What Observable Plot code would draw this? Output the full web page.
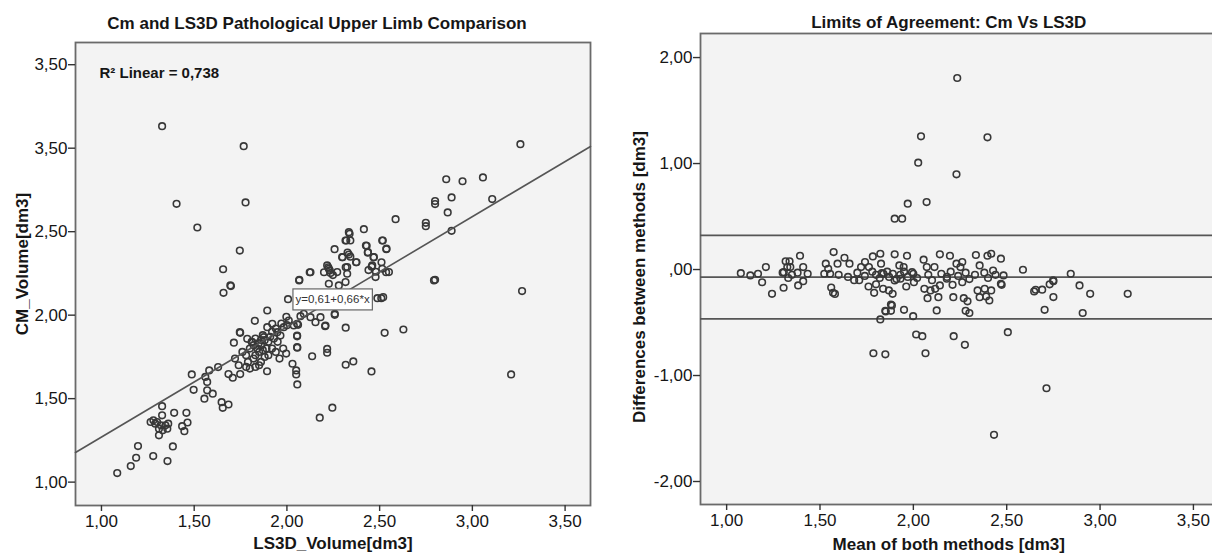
<!DOCTYPE html>
<html><head><meta charset="utf-8">
<script src="https://cdn.jsdelivr.net/npm/d3@7"></script>
<script src="https://cdn.jsdelivr.net/npm/@observablehq/plot@0.6"></script>
<style>
html,body{margin:0;padding:0;background:#fff;overflow:hidden;width:1212px;height:555px}
#wrap{position:relative;width:1212px;height:555px;overflow:hidden}
#left{position:absolute;left:0;top:0;width:606px;height:555px}
#right{position:absolute;left:606px;top:0;width:626px;height:555px}
#wrap svg{max-width:none !important}
</style></head><body><div id="wrap"><div id="left"></div><div id="right"></div></div>
<script>
// ---------- DATA ----------
const leftTitle = "Cm and LS3D Pathological Upper Limb Comparison";
const rightTitle = "Limits of Agreement: Cm Vs LS3D";
const leftXLabel = "LS3D_Volume[dm3]";
const leftYLabel = "CM_Volume[dm3]";
const rightXLabel = "Mean of both methods [dm3]";
const rightYLabel = "Differences between methods [dm3]";
const r2Label = "R² Linear = 0,738";
const equationLabel = "y=0,61+0,66*x";

const xTicks = [1, 1.5, 2, 2.5, 3, 3.5];
const xTickLabels = ["1,00", "1,50", "2,00", "2,50", "3,00", "3,50"];
const leftYTicks = [1, 1.5, 2, 2.5, 3, 3.5];
const leftYTickLabels = ["1,00", "1,50", "2,00", "2,50", "3,50", "3,50"];
const rightYTicks = [-2, -1, 0, 1, 2];
const rightYTickLabels = ["-2,00", "-1,00", ",00", "1,00", "2,00"];

const xDomain = [0.86, 3.637];
const leftYDomain = [0.86, 3.633];
const rightYDomain = [-2.217, 2.227];

const fitIntercept = 0.61;
const fitSlope = 0.66;
const equationAt = [2.246];
const agreementLines = [0.322, -0.072, -0.465]; // upper LoA, mean, lower LoA

// [LS3D volume, CM volume]
const scatterPairs = [
  [1.327,3.132],[1.767,3.012],[3.259,3.024],[1.405,2.667],[1.777,2.675],[1.517,2.525],[1.746,2.387],[1.656,2.275],
  [2.859,2.814],[2.947,2.802],[3.057,2.825],[2.888,2.705],[2.799,2.683],[2.799,2.665],[3.107,2.695],[2.867,2.615],
  [2.749,2.553],[2.749,2.533],[2.586,2.575],[2.888,2.505],[2.415,2.515],[2.338,2.487],[2.320,2.447],[2.342,2.447],
  [2.257,2.395],[2.430,2.415],[2.517,2.447],[2.536,2.395],[2.436,2.375],[2.327,2.375],[2.342,2.350],[2.300,2.347],
  [2.467,2.347],[2.373,2.317],[2.457,2.290],[2.510,2.317],[2.223,2.287],[2.231,2.268],[2.123,2.257],[2.200,2.257],
  [2.248,2.240],[2.317,2.287],[2.440,2.270],[2.480,2.260],[2.535,2.257],[2.799,2.212],[2.067,2.212],[3.268,2.144],
  [1.658,2.134],[1.698,2.174],[2.006,2.096],[2.509,2.102],[2.488,2.102],[1.894,2.028],[1.827,1.966],[1.997,1.990],
  [2.060,1.942],[2.258,2.002],[2.317,1.925],[2.206,1.934],[2.527,1.894],[2.628,1.914],[1.748,1.894],[1.714,1.835],
  [2.055,1.873],[2.056,1.805],[2.136,1.754],[2.217,1.775],[2.317,1.703],[2.358,1.723],[2.456,1.663],[1.996,1.770],
  [2.030,1.709],[2.050,1.669],[2.050,1.645],[2.056,1.585],[3.209,1.645],[2.177,1.386],[2.245,1.446],[1.893,1.664],
  [1.830,1.690],[1.780,1.690],[1.748,1.647],[1.685,1.647],[1.708,1.625],[1.648,1.479],[1.654,1.445],[1.685,1.465],
  [1.629,1.689],[1.581,1.669],[1.487,1.645],[1.497,1.553],[1.555,1.500],[1.570,1.550],[1.570,1.600],[1.600,1.530],
  [1.560,1.630],[1.458,1.415],[1.464,1.357],[1.447,1.305],[1.435,1.335],[1.392,1.415],[1.327,1.455],[1.327,1.400],
  [1.300,1.360],[1.280,1.370],[1.265,1.360],[1.310,1.320],[1.310,1.280],[1.330,1.310],[1.345,1.340],[1.355,1.320],
  [1.360,1.350],[1.290,1.350],[1.320,1.340],[1.385,1.214],[1.356,1.126],[1.279,1.156],[1.197,1.216],[1.187,1.146],
  [1.158,1.096],[1.085,1.054],
  [2.217,2.298],[2.226,2.278],[2.235,2.252],[2.271,2.258],[2.226,2.188],[2.280,2.178],[2.325,2.248],[2.316,2.198],
  [2.298,2.347],[2.334,2.363],[2.325,2.288],[2.334,2.497],[2.316,2.447],[2.375,2.317],[2.426,2.417],[2.437,2.377],
  [2.469,2.347],[2.460,2.298],[2.478,2.228],[2.514,2.278],[2.550,2.258],[2.514,2.447],[2.537,2.398],[2.519,2.108],
  [2.793,2.208],[2.258,2.008],[2.208,1.938],[2.154,1.958],[1.695,2.178],[2.066,2.208],[2.127,2.257],
  [1.746,1.898],[1.786,1.858],[1.813,1.838],[1.848,1.832],[1.875,1.868],[1.894,1.928],[1.921,1.948],[1.948,1.898],
  [1.965,1.878],[1.983,1.928],[2.010,1.968],[2.037,1.938],[2.055,1.948],[2.073,1.994],[2.091,2.008],[2.127,1.988],
  [2.181,1.988],[2.055,1.878],[2.055,1.808],[2.217,1.798],
  [1.800,1.800],[1.820,1.820],[1.840,1.800],[1.850,1.780],[1.860,1.820],[1.830,1.760],[1.870,1.790],[1.880,1.850],
  [1.900,1.840],[1.890,1.800],[1.910,1.870],[1.920,1.900],[1.930,1.860],[1.950,1.840],[1.780,1.760],[1.760,1.780],
  [1.790,1.720],[1.820,1.740],[1.860,1.720],[1.880,1.750],[1.900,1.760],[1.940,1.780],[1.960,1.740],[1.720,1.740],
  [1.740,1.700],[1.850,1.700],[1.800,1.680],[1.980,1.800],[1.830,1.860],[1.810,1.840],[1.870,1.880],[1.940,1.920],
  [1.970,1.950],[2.000,1.940],[1.920,1.800],[1.860,1.850]
];

// [mean of both methods, difference between methods]
const agreementPairs = [
  [2.235,1.807],[2.041,1.257],[2.397,1.247],[2.026,1.008],[2.231,0.898],[1.970,0.621],[2.071,0.636],[1.900,0.480],[1.940,0.480],
  [1.076,-0.034],[1.127,-0.056],[1.168,-0.040],[1.210,0.023],[1.316,0.077],[1.337,0.077],[1.325,0.023],[1.306,-0.025],
  [1.341,0.023],[1.393,0.130],[1.410,0.023],[1.434,-0.040],[1.523,-0.040],[1.544,0.007],[1.554,-0.040],[1.531,0.055],
  [1.573,0.165],[1.594,0.055],[1.631,0.111],[1.658,0.055],[1.720,0.023],[1.741,0.070],[1.762,0.023],[1.783,0.124],
  [1.823,0.149],[1.827,0.055],[1.831,-0.034],[1.900,0.143],[1.925,0.039],[1.948,0.023],[1.966,0.130],[1.993,-0.025],
  [2.055,0.093],[2.072,0.023],[2.113,0.023],[2.142,0.143],[2.196,0.130],[2.231,0.055],[2.252,0.023],[2.262,0.070],
  [2.335,0.137],[2.355,0.039],[2.397,0.130],[2.417,0.149],[2.427,-0.009],[2.469,0.102],[2.483,-0.056],[2.587,-0.002],
  [2.749,-0.103],[2.843,-0.040],
  [1.700,-0.030],[1.740,-0.060],[1.780,-0.020],[1.800,-0.050],[1.820,-0.080],[1.840,-0.040],[1.860,-0.020],[1.870,-0.070],
  [1.890,-0.040],[1.910,-0.090],[1.930,-0.050],[1.950,-0.020],[1.970,-0.070],[2.000,-0.040],[2.020,-0.080],[2.080,-0.050],
  [2.100,-0.100],[2.150,-0.040],[2.180,-0.070],[2.200,-0.020],[2.240,-0.060],[2.280,-0.030],[2.300,-0.090],[2.330,-0.050],
  [2.380,-0.030],[2.400,-0.080],[2.440,-0.050],[1.350,-0.050],[1.330,-0.080],[1.380,-0.030],[1.300,-0.030],[1.600,-0.050],
  [1.650,-0.070],
  [2.713,-1.120],[2.432,-1.560],[1.786,-0.790],[1.850,-0.800],[2.065,-0.790],[2.015,-0.613],[2.048,-0.629],[2.216,-0.629],
  [2.276,-0.710],[2.506,-0.591],[1.823,-0.471],[1.999,-0.440],[1.950,-0.380],[1.850,-0.390],[1.880,-0.390],[1.880,-0.330],
  [2.125,-0.386],[2.280,-0.390],[2.300,-0.410],[2.270,-0.270],[2.290,-0.300],[2.703,-0.380],[2.907,-0.410],[2.947,-0.229],
  [3.148,-0.229],[2.890,-0.150],[2.690,-0.190],[2.750,-0.260],[2.730,-0.140],[2.750,-0.110],[2.647,-0.207],[2.655,-0.191],
  [1.243,-0.229],[1.305,-0.172],[1.190,-0.120],[1.383,-0.150],[1.410,-0.110],[1.560,-0.170],[1.570,-0.220],[1.580,-0.230],
  [1.683,-0.100],[1.710,-0.100],[1.790,-0.220],[1.760,-0.160],[1.800,-0.140],
  [1.838,-0.182],[1.869,-0.197],[1.889,-0.229],[1.900,-0.103],[1.931,-0.087],[1.962,-0.160],[2.003,-0.119],[2.059,-0.182],
  [2.076,-0.270],[2.092,-0.197],[2.117,-0.182],[2.134,-0.261],[2.142,-0.150],[2.179,-0.087],[2.210,-0.144],[2.214,-0.261],
  [2.262,-0.119],[2.344,-0.197],[2.355,-0.261],[2.382,-0.182],[2.390,-0.254],[2.407,-0.292],[2.417,-0.197],[2.469,-0.135],
  [2.473,-0.144],[1.885,-0.339],[1.852,-0.396]
];

// ---------- DRAWING ----------
const font = "'Liberation Sans', Arial, Helvetica, sans-serif";
const ink = "#161616";
const dotStroke = "#383838";
const panelFill = "#f3f3f3";
const frameStroke = "#6a6a6a";
const fmt = (ticks, labels) => d => labels[ticks.indexOf(d)];
const dotStyle = {r: 3.3, stroke: dotStroke, strokeWidth: 1.6, fill: "none"};

const left = Plot.plot({
  width: 606, height: 555,
  marginLeft: 75, marginRight: 16, marginTop: 42, marginBottom: 50,
  style: {fontFamily: font, fontSize: "17px", color: ink, background: "transparent", overflow: "visible"},
  x: {domain: xDomain, label: null},
  y: {domain: leftYDomain, label: null},
  marks: [
    Plot.frame({fill: panelFill, stroke: frameStroke, strokeWidth: 1.8}),
    Plot.dot(scatterPairs, {x: d => d[0], y: d => d[1], ...dotStyle}),
    Plot.line(xDomain, {x: d => d, y: d => fitIntercept + fitSlope * d, stroke: "#555", strokeWidth: 1.6}),
    Plot.text(equationAt, {x: d => d, y: d => fitIntercept + fitSlope * d, text: () => equationLabel,
      fontSize: 11.5, fill: "#333"}),
    Plot.text([r2Label], {frameAnchor: "top-left", dx: 24, dy: 31, textAnchor: "start", lineAnchor: "middle",
      fontSize: 15, fontWeight: "bold", fill: ink}),
    Plot.axisX({ticks: xTicks, tickFormat: fmt(xTicks, xTickLabels), tickSize: 6, tickPadding: 3,
      stroke: "#333", strokeWidth: 1.4, fill: ink}),
    Plot.axisY({ticks: leftYTicks, tickFormat: fmt(leftYTicks, leftYTickLabels), tickSize: 7, tickPadding: 1,
      stroke: "#333", strokeWidth: 1.4, fill: ink}),
    Plot.text([leftTitle], {frameAnchor: "top", dx: -16, dy: -19, lineAnchor: "middle", fontSize: 17, fontWeight: "bold", fill: ink}),
    Plot.text([leftXLabel], {frameAnchor: "bottom", dy: 38, lineAnchor: "middle", fontSize: 17, fontWeight: "bold", fill: ink}),
    Plot.text([leftYLabel], {frameAnchor: "left", dx: -53, dy: -10, rotate: -90, textAnchor: "middle", lineAnchor: "middle", fontSize: 17, fontWeight: "bold", fill: ink})
  ]
});
document.getElementById("left").appendChild(left);

const right = Plot.plot({
  width: 626, height: 555,
  marginLeft: 94, marginRight: 13.5, marginTop: 33, marginBottom: 51,
  style: {fontFamily: font, fontSize: "17px", color: ink, background: "transparent", overflow: "visible"},
  x: {domain: xDomain, label: null},
  y: {domain: rightYDomain, label: null},
  marks: [
    Plot.frame({fill: panelFill, stroke: frameStroke, strokeWidth: 1.8}),
    Plot.ruleY(agreementLines, {stroke: "#555", strokeWidth: 1.8}),
    Plot.dot(agreementPairs, {x: d => d[0], y: d => d[1], ...dotStyle}),
    Plot.axisX({ticks: xTicks, tickFormat: fmt(xTicks, xTickLabels), tickSize: 6, tickPadding: 3,
      stroke: "#333", strokeWidth: 1.4, fill: ink}),
    Plot.axisY({ticks: rightYTicks, tickFormat: fmt(rightYTicks, rightYTickLabels), tickSize: 7, tickPadding: 1,
      stroke: "#333", strokeWidth: 1.4, fill: ink}),
    Plot.text([rightTitle], {frameAnchor: "top", dx: -11, dy: -11, lineAnchor: "middle", fontSize: 17, fontWeight: "bold", fill: ink}),
    Plot.text([rightXLabel], {frameAnchor: "bottom", dx: -11, dy: 40, lineAnchor: "middle", fontSize: 17, fontWeight: "bold", fill: ink}),
    Plot.text([rightYLabel], {frameAnchor: "left", dx: -61, dy: 8, rotate: -90, textAnchor: "middle", lineAnchor: "middle", fontSize: 17, fontWeight: "bold", fill: ink})
  ]
});
document.getElementById("right").appendChild(right);

// white box behind the regression equation label (measured from the rendered text)
{
  const svgBox = left.getBoundingClientRect();
  const eqText = Array.from(left.querySelectorAll("text")).find(t => t.textContent === equationLabel);
  if (eqText) {
    const bb = eqText.getBoundingClientRect();
    const rect = document.createElementNS("http://www.w3.org/2000/svg", "rect");
    rect.setAttribute("x", bb.left - svgBox.left - 2.5);
    rect.setAttribute("y", bb.top - svgBox.top - 4.5);
    rect.setAttribute("width", bb.width + 5);
    rect.setAttribute("height", bb.height + 9);
    rect.setAttribute("fill", "#fff");
    rect.setAttribute("stroke", "#666");
    rect.setAttribute("stroke-width", "1.2");
    const group = eqText.closest("g") || eqText;
    group.parentNode.insertBefore(rect, group);
  }
}
</script>
</body></html>
